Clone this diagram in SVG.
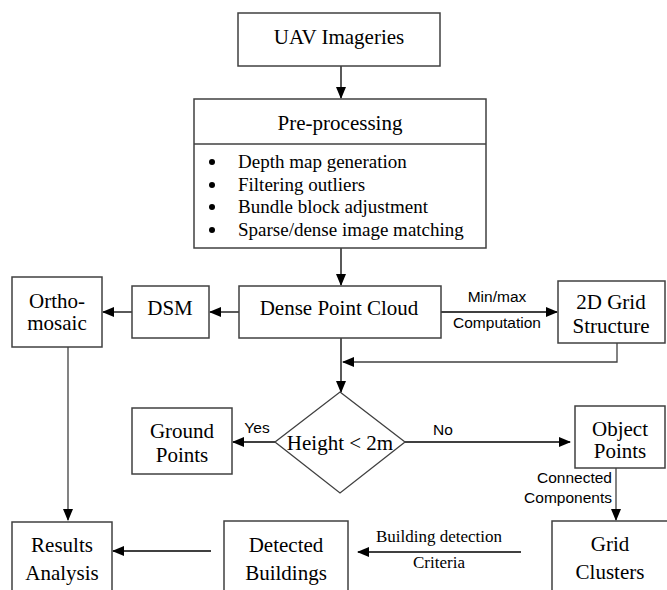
<svg xmlns="http://www.w3.org/2000/svg" width="667" height="590" viewBox="0 0 667 590">
<style>
.box{fill:#fff;stroke:#404040;stroke-width:1.5}
.t{font-family:"Liberation Serif","Times New Roman",serif;font-size:21px;fill:#000;text-anchor:middle}
.b{font-family:"Liberation Serif","Times New Roman",serif;font-size:19px;fill:#000}
.s{font-family:"Liberation Sans",Arial,sans-serif;font-size:15.5px;fill:#000;text-anchor:middle}
.e{font-family:"Liberation Serif","Times New Roman",serif;font-size:17px;fill:#000;text-anchor:middle}
.c{fill:none;stroke:#000;stroke-width:1.3}
.g{fill:none;stroke:#404040;stroke-width:1.3}
</style>
<defs>
<marker id="ah" markerWidth="12" markerHeight="10" refX="11" refY="5" orient="auto" markerUnits="userSpaceOnUse">
<path d="M0,0 L12,5 L0,10 Z" fill="#000"/>
</marker>
</defs>
<rect width="667" height="590" fill="#fff"/>
<g id="connectors">
<line class="c" x1="341" y1="66" x2="341" y2="98" marker-end="url(#ah)"/>
<line class="c" x1="341" y1="248" x2="341" y2="285" marker-end="url(#ah)"/>
<line class="c" x1="239" y1="312" x2="210" y2="312" marker-end="url(#ah)"/>
<line class="c" x1="132" y1="312" x2="103" y2="312" marker-end="url(#ah)"/>
<line class="c" x1="441" y1="312" x2="557" y2="312" marker-end="url(#ah)"/>
<polyline class="g" points="617,343 617,362 343,362" marker-end="url(#ah)"/>
<line class="c" x1="341" y1="338" x2="341" y2="392" marker-end="url(#ah)"/>
<line class="c" x1="275" y1="442" x2="233" y2="442" marker-end="url(#ah)"/>
<line class="c" x1="405" y1="442" x2="570" y2="442" marker-end="url(#ah)"/>
<line class="g" x1="616" y1="468" x2="616" y2="520" marker-end="url(#ah)"/>
<line class="c" x1="521" y1="552" x2="358" y2="552" marker-end="url(#ah)"/>
<line class="c" x1="211" y1="551" x2="113" y2="551" marker-end="url(#ah)"/>
<line class="g" x1="68" y1="347" x2="68" y2="520" marker-end="url(#ah)"/>
<text class="s" x="497" y="302">Min/max</text>
<text class="s" x="497" y="328">Computation</text>
<text class="s" x="257" y="433">Yes</text>
<text class="s" x="443" y="435">No</text>
<text class="s" x="612" y="483" style="text-anchor:end">Connected</text>
<text class="s" x="612" y="503" style="text-anchor:end">Components</text>
<text class="e" x="439" y="542">Building detection</text>
<text class="e" x="439" y="568">Criteria</text>
</g>
<g id="uav">
<rect class="box" x="238" y="13" width="202" height="53"/>
<text class="t" x="339" y="44">UAV Imageries</text>
</g>
<g id="preprocessing">
<rect class="box" x="194" y="99" width="292" height="149"/>
<line class="g" x1="194" y1="144" x2="486" y2="144"/>
<text class="t" x="340" y="130">Pre-processing</text>
<circle cx="212" cy="162" r="3" fill="#000"/>
<circle cx="212" cy="185" r="3" fill="#000"/>
<circle cx="212" cy="207" r="3" fill="#000"/>
<circle cx="212" cy="230" r="3" fill="#000"/>
<text class="b" x="238" y="168">Depth map generation</text>
<text class="b" x="238" y="191">Filtering outliers</text>
<text class="b" x="238" y="213">Bundle block adjustment</text>
<text class="b" x="238" y="236">Sparse/dense image matching</text>
</g>
<g id="dense">
<rect class="box" x="239" y="286" width="202" height="52"/>
<text class="t" x="339" y="315">Dense Point Cloud</text>
</g>
<g id="dsm">
<rect class="box" x="132" y="286" width="77" height="52"/>
<text class="t" x="170" y="315">DSM</text>
</g>
<g id="ortho">
<rect class="box" x="12" y="277" width="90" height="70"/>
<text class="t" x="57" y="308">Ortho-</text>
<text class="t" x="57" y="330">mosaic</text>
</g>
<g id="grid2d">
<rect class="box" x="558" y="281" width="107" height="62"/>
<text class="t" x="611" y="309">2D Grid</text>
<text class="t" x="611" y="333">Structure</text>
</g>
<g id="decision">
<polygon points="340,392 405,442 340,493 275,442" fill="#fff" stroke="#404040" stroke-width="1.3"/>
<text class="t" x="340" y="450">Height &lt; 2m</text>
</g>
<g id="ground">
<rect class="box" x="132" y="408" width="100" height="66"/>
<text class="t" x="182" y="438">Ground</text>
<text class="t" x="182" y="462">Points</text>
</g>
<g id="object">
<rect class="box" x="575" y="406" width="90" height="62"/>
<text class="t" x="620" y="436">Object</text>
<text class="t" x="620" y="458">Points</text>
</g>
<g id="clusters">
<rect class="box" x="552" y="521" width="130" height="90"/>
<text class="t" x="610" y="551">Grid</text>
<text class="t" x="610" y="579">Clusters</text>
</g>
<g id="buildings">
<rect class="box" x="224" y="521" width="124" height="90"/>
<text class="t" x="286" y="552">Detected</text>
<text class="t" x="286" y="580">Buildings</text>
</g>
<g id="results">
<rect class="box" x="12" y="522" width="100" height="90"/>
<text class="t" x="62" y="552">Results</text>
<text class="t" x="62" y="580">Analysis</text>
</g>
</svg>
